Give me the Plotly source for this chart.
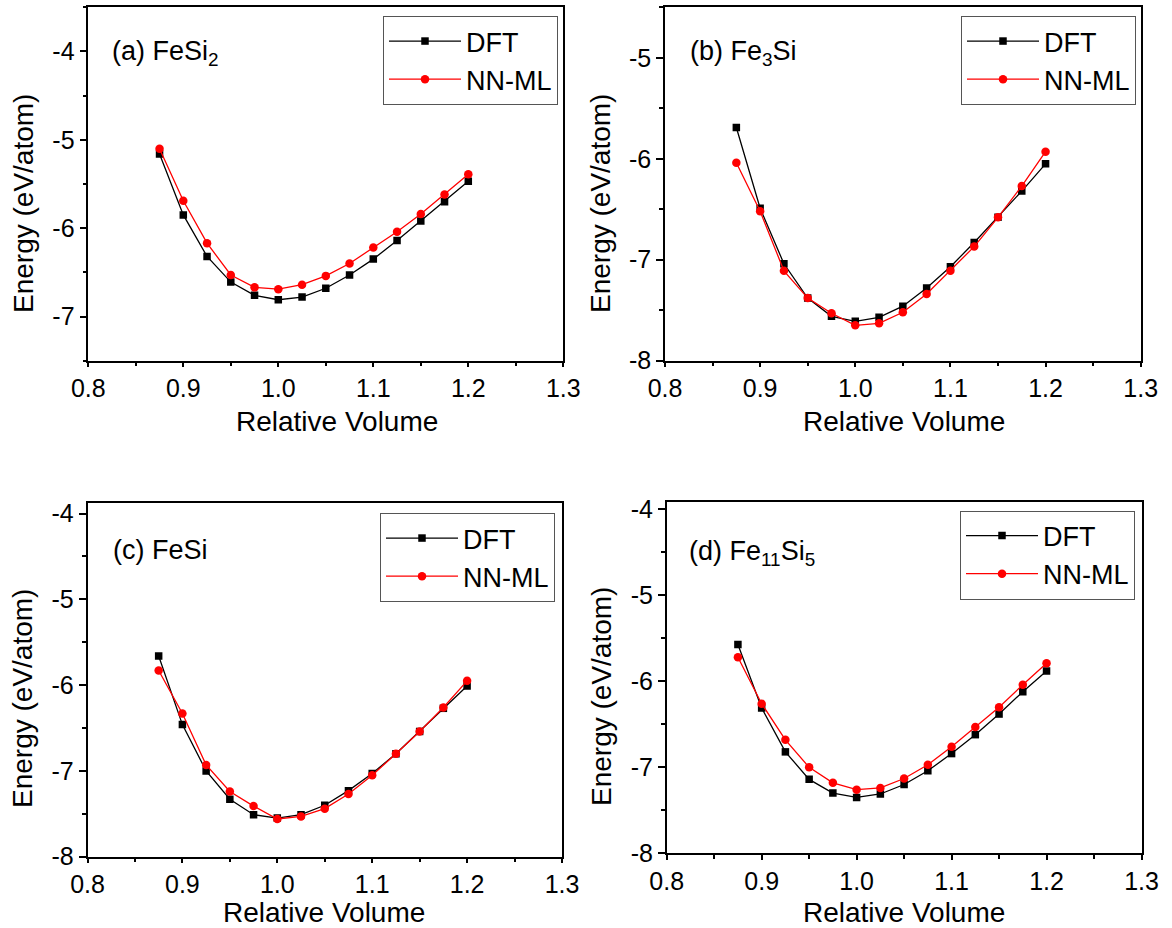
import plotly.graph_objects as go

volume = [0.875, 0.9, 0.925, 0.95, 0.975, 1.0, 1.025, 1.05, 1.075, 1.1, 1.125, 1.15, 1.175, 1.2]

fesi2_dft = [-5.16, -5.85, -6.32, -6.61, -6.76, -6.81, -6.78, -6.68, -6.53, -6.35, -6.14, -5.92, -5.70, -5.47]
fesi2_nn = [-5.10, -5.69, -6.17, -6.53, -6.67, -6.69, -6.64, -6.54, -6.40, -6.22, -6.04, -5.84, -5.62, -5.39]

fe3si_dft = [-5.69, -6.49, -7.04, -7.38, -7.56, -7.61, -7.57, -7.46, -7.28, -7.07, -6.83, -6.58, -6.32, -6.05]
fe3si_nn = [-6.04, -6.52, -7.11, -7.38, -7.53, -7.65, -7.63, -7.52, -7.34, -7.11, -6.87, -6.58, -6.27, -5.93]

fesi_dft = [-5.66, -6.46, -7.00, -7.33, -7.51, -7.55, -7.51, -7.40, -7.23, -7.03, -6.80, -6.54, -6.27, -6.01]
fesi_nn = [-5.83, -6.33, -6.93, -7.24, -7.41, -7.56, -7.53, -7.44, -7.27, -7.05, -6.80, -6.54, -6.26, -5.95]

fe11si5_dft = [-5.57, -6.31, -6.82, -7.14, -7.30, -7.35, -7.31, -7.20, -7.04, -6.84, -6.62, -6.38, -6.12, -5.88]
fe11si5_nn = [-5.72, -6.26, -6.68, -7.00, -7.18, -7.26, -7.24, -7.13, -6.97, -6.76, -6.53, -6.30, -6.04, -5.79]

panel_labels = ["(a) FeSi<sub>2</sub>", "(b) Fe<sub>3</sub>Si", "(c) FeSi", "(d) Fe<sub>11</sub>Si<sub>5</sub>"]
series_names = ["DFT", "NN-ML"]
x_title = "Relative Volume"
y_title = "Energy (eV/atom)"
x_ticks = [0.8, 0.9, 1.0, 1.1, 1.2, 1.3]
x_tick_labels = ["0.8", "0.9", "1.0", "1.1", "1.2", "1.3"]

W, H = 1172, 928
FONT = "Liberation Sans, Arial, sans-serif"

panels = [
    dict(data=(fesi2_dft, fesi2_nn), yr=[-7.5, -3.5], yt=[-7, -6, -5, -4],
         px=(88.3, 563.3), py=(7.3, 360.7), leg=(558, 16), lab=(110, 53),
         xt=(337, 422), yti=(23, 204)),
    dict(data=(fe3si_dft, fe3si_nn), yr=[-8, -4.5], yt=[-8, -7, -6, -5],
         px=(665, 1140.7), py=(7.3, 360.7), leg=(1136, 16), lab=(688, 53),
         xt=(904, 422), yti=(600, 204)),
    dict(data=(fesi_dft, fesi_nn), yr=[-8, -3.88], yt=[-8, -7, -6, -5, -4],
         px=(87.5, 562), py=(503.3, 856.7), leg=(555, 513), lab=(111, 550),
         xt=(324, 912), yti=(22, 699)),
    dict(data=(fe11si5_dft, fe11si5_nn), yr=[-8, -3.91], yt=[-8, -7, -6, -5, -4],
         px=(666.7, 1141.5), py=(501.7, 853.3), leg=(1135, 510.5), lab=(687, 553),
         xt=(904, 912), yti=(601, 697)),
]

fig = go.Figure()
layout = dict(
    width=W, height=H, margin=dict(l=0, r=0, t=0, b=0),
    paper_bgcolor="white", plot_bgcolor="white",
    font=dict(family=FONT, color="black", size=25),
    showlegend=True, annotations=[],
)

for i, p in enumerate(panels):
    k = "" if i == 0 else str(i + 1)
    xa, ya = "x" + k, "y" + k
    leg = "legend" if i == 0 else "legend" + str(i + 1)
    dft, nn = p["data"]
    fig.add_trace(go.Scatter(
        x=volume, y=dft, mode="lines+markers", name=series_names[0],
        xaxis=xa, yaxis=ya, legend=leg,
        line=dict(color="black", width=1.3),
        marker=dict(symbol="square", size=7.5, color="black"),
    ))
    fig.add_trace(go.Scatter(
        x=volume, y=nn, mode="lines+markers", name=series_names[1],
        xaxis=xa, yaxis=ya, legend=leg,
        line=dict(color="#ff0000", width=1.3),
        marker=dict(symbol="circle", size=8.5, color="#ff0000"),
    ))
    common = dict(showline=True, mirror=True, linecolor="black", linewidth=1.5,
                  showgrid=False, zeroline=False, ticks="outside",
                  tickwidth=1.5, tickcolor="black",
                  tickfont=dict(size=25, family=FONT, color="black"),
                  automargin=False)
    layout["xaxis" + k] = dict(
        common, domain=[p["px"][0] / W, p["px"][1] / W], anchor=ya, ticklen=5,
        range=[0.8, 1.3], tickvals=x_ticks, ticktext=x_tick_labels,
        minor=dict(ticks="outside", dtick=0.05, ticklen=4, tickwidth=1.5, tickcolor="black"),
    )
    layout["yaxis" + k] = dict(
        common, domain=[1 - p["py"][1] / H, 1 - p["py"][0] / H], anchor=xa, ticklen=7,
        range=p["yr"], tickvals=p["yt"], ticktext=["-%d" % abs(v) for v in p["yt"]],
        minor=dict(ticks="outside", dtick=0.5, tick0=-8, ticklen=4, tickwidth=1.5, tickcolor="black"),
    )
    layout[leg] = dict(
        x=p["leg"][0] / W, y=1 - p["leg"][1] / H, xanchor="right", yanchor="top",
        bgcolor="white", bordercolor="#555555", borderwidth=1,
        font=dict(size=27, family=FONT, color="black"), itemwidth=72,
        tracegroupgap=0,
    )
    layout["annotations"].append(dict(
        text=panel_labels[i], xref="paper", yref="paper",
        x=p["lab"][0] / W, y=1 - p["lab"][1] / H, xanchor="left", yanchor="middle",
        showarrow=False, font=dict(size=27, family=FONT, color="black"),
    ))
    layout["annotations"].append(dict(
        text=x_title, xref="paper", yref="paper",
        x=p["xt"][0] / W, y=1 - p["xt"][1] / H, xanchor="center", yanchor="middle",
        showarrow=False, font=dict(size=28, family=FONT, color="black"),
    ))
    layout["annotations"].append(dict(
        text=y_title, xref="paper", yref="paper", textangle=-90,
        x=p["yti"][0] / W, y=1 - p["yti"][1] / H, xanchor="center", yanchor="middle",
        showarrow=False, font=dict(size=28, family=FONT, color="black"),
    ))

fig.update_layout(**layout)
fig.write_html("out.html")
